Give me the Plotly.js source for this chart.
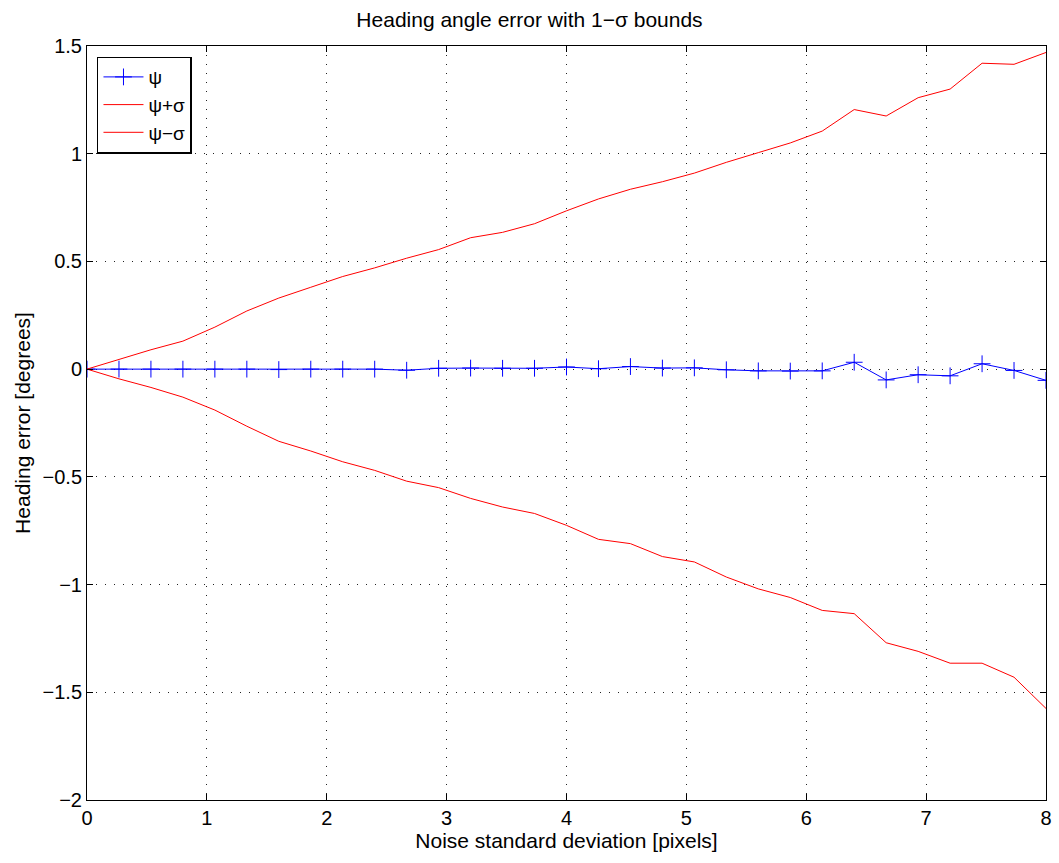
<!DOCTYPE html>
<html>
<head>
<meta charset="utf-8">
<script src="https://cdn.plot.ly/plotly-3.0.1.min.js"></script>
<style>html,body{margin:0;padding:0;background:#fff;}#chart{width:1059px;height:863px;}</style>
</head>
<body>
<div id="chart"></div>
<script>
// Noise standard deviation [pixels], 31 samples from 0 to 8
const noiseStd = [0, 0.2667, 0.5333, 0.8, 1.0667, 1.3333, 1.6, 1.8667, 2.1333, 2.4, 2.6667, 2.9333, 3.2, 3.4667, 3.7333, 4.0, 4.2667, 4.5333, 4.8, 5.0667, 5.3333, 5.6, 5.8667, 6.1333, 6.4, 6.6667, 6.9333, 7.2, 7.4667, 7.7333, 8.0];
const psi = [0, 0, 0, 0, 0, 0, -0.002, 0, 0, 0, -0.005, 0.004, 0.005, 0.004, 0.004, 0.01, 0.002, 0.012, 0.005, 0.006, -0.003, -0.008, -0.009, -0.008, 0.032, -0.05, -0.026, -0.031, 0.025, -0.006, -0.052];
const psiPlusSigma = [0, 0.045, 0.09, 0.13, 0.195, 0.27, 0.33, 0.38, 0.43, 0.47, 0.515, 0.555, 0.61, 0.635, 0.675, 0.735, 0.79, 0.835, 0.87, 0.91, 0.96, 1.005, 1.05, 1.105, 1.205, 1.175, 1.26, 1.30, 1.42, 1.415, 1.47];
const psiMinusSigma = [0, -0.045, -0.085, -0.13, -0.19, -0.265, -0.335, -0.38, -0.43, -0.47, -0.52, -0.55, -0.60, -0.64, -0.67, -0.725, -0.79, -0.81, -0.87, -0.895, -0.965, -1.02, -1.06, -1.12, -1.135, -1.27, -1.31, -1.365, -1.365, -1.43, -1.575];
const seriesNames = ['ψ', 'ψ+σ', 'ψ−σ'];
const xTicks = [0, 1, 2, 3, 4, 5, 6, 7, 8];
const yTicks = [-2, -1.5, -1, -0.5, 0, 0.5, 1, 1.5];
const yTickText = ['−2', '−1.5', '−1', '−0.5', '0', '0.5', '1', '1.5'];

const font = 'Liberation Sans, Arial, Helvetica, sans-serif';

const traces = [
  {x: noiseStd, y: psi, name: seriesNames[0], type: 'scatter', mode: 'lines+markers',
   line: {color: '#0000ff', width: 1},
   marker: {symbol: 'cross-thin-open', size: 12, line: {color: '#0000ff', width: 1}, color: '#0000ff'}},
  {x: noiseStd, y: psiPlusSigma, name: seriesNames[1], type: 'scatter', mode: 'lines',
   line: {color: '#ff0000', width: 1}},
  {x: noiseStd, y: psiMinusSigma, name: seriesNames[2], type: 'scatter', mode: 'lines',
   line: {color: '#ff0000', width: 1}}
];

const axisCommon = {
  showline: true, linecolor: '#000', linewidth: 1, mirror: 'allticks',
  ticks: 'inside', ticklen: 6, tickcolor: '#000', tickwidth: 1,
  showgrid: true, gridcolor: '#222', gridwidth: 1, griddash: '1px,8px',
  zeroline: false, tickfont: {family: font, size: 20, color: '#000'}
};

const layout = {
  width: 1059, height: 863,
  margin: {l: 87, r: 13, t: 46, b: 63},
  paper_bgcolor: '#fff', plot_bgcolor: '#fff',
  showlegend: true,
  title: {text: 'Heading angle error with 1−σ bounds', font: {family: font, size: 21, color: '#000'}, x: 0.5, xanchor: 'center', y: 0.977, yanchor: 'middle'},
  xaxis: Object.assign({}, axisCommon, {
    range: [0, 8], tickvals: xTicks, ticktext: xTicks.map(String),
    title: {text: 'Noise standard deviation [pixels]', font: {family: font, size: 21, color: '#000'}, standoff: 2}
  }),
  yaxis: Object.assign({}, axisCommon, {
    range: [-2, 1.5], tickvals: yTicks, ticktext: yTickText,
    title: {text: 'Heading error [degrees]', font: {family: font, size: 21, color: '#000'}, standoff: 6}
  }),
  legend: {
    x: 0.0104, y: 0.986, xanchor: 'left', yanchor: 'top',
    bgcolor: '#fff', bordercolor: '#000', borderwidth: 1.5,
    font: {family: font, size: 19, color: '#000'},
    tracegroupgap: 0, itemwidth: 40,
    entrywidth: 108, entrywidthmode: 'pixels'
  }
};

Plotly.newPlot('chart', traces, layout, {displayModeBar: false, staticPlot: true});
</script>
</body>
</html>
